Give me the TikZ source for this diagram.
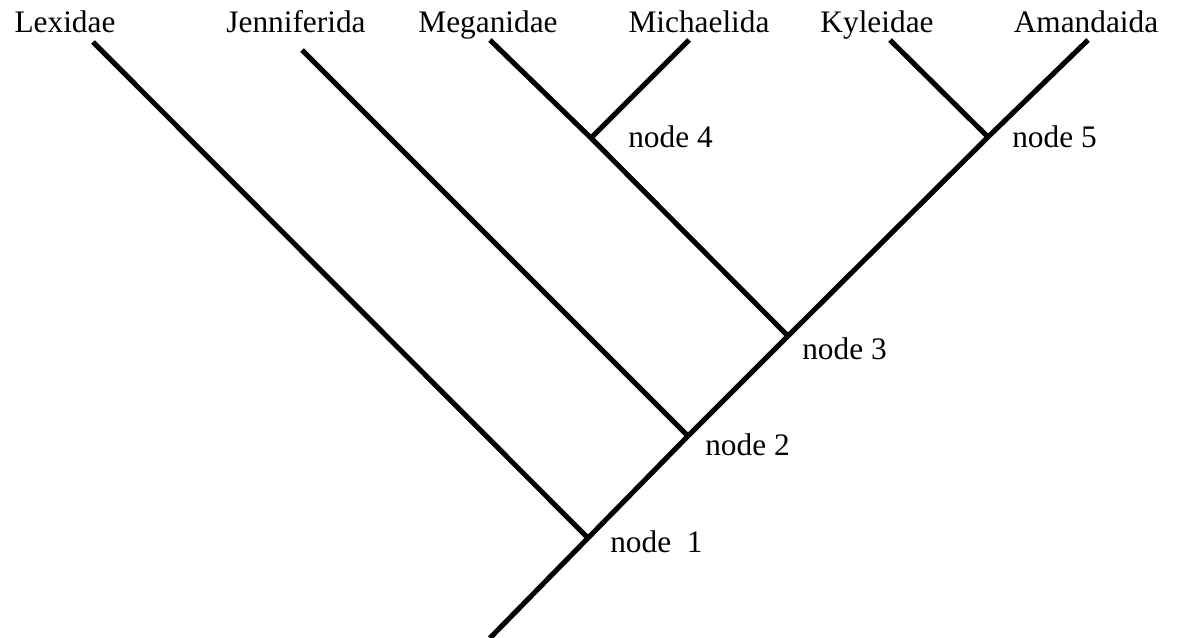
\documentclass[tikz,border=0pt]{standalone}
\usepackage{fontspec}
\setmainfont{Liberation Serif}
\begin{document}
\begin{tikzpicture}[x=0.75pt,y=-0.75pt,
  branch/.style={line width=3.8pt,line cap=butt},
  taxon/.style={anchor=base,inner sep=0pt,font=\fontsize{23.5}{26}\selectfont},
  nodelab/.style={anchor=base west,inner sep=0pt,font=\fontsize{23.5}{26}\selectfont}]
\useasboundingbox (0,0) rectangle (1177,638);
% tree points
\coordinate (root) at (490,638);
\coordinate (n1) at (588,538);
\coordinate (n2) at (688,436);
\coordinate (n3) at (788,336);
\coordinate (n4) at (591,138);
\coordinate (n5) at (988,137);
\coordinate (tLex) at (93,42);
\coordinate (tJen) at (302,50);
\coordinate (tMeg) at (490,40);
\coordinate (tMic) at (689,40);
\coordinate (tKyl) at (890,40);
\coordinate (tAma) at (1088,40);
% branches
\draw[branch] (root) -- (n1);
\draw[branch] (n1) -- (n2);
\draw[branch] (n2) -- (n3);
\draw[branch] (n3) -- (n5);
\draw[branch] (n5) -- (tAma);
\draw[branch] (n5) -- (tKyl);
\draw[branch] (n3) -- (n4);
\draw[branch] (n4) -- (tMeg);
\draw[branch] (n4) -- (tMic);
\draw[branch] (n2) -- (tJen);
\draw[branch] (n1) -- (tLex);
% taxon labels
\node[taxon] (lLex) at (65,33) {Lexidae};
\node[taxon] (lJen) at (296,33) {Jenniferida};
\node[taxon] (lMeg) at (488,33) {Meganidae};
\node[taxon] (lMic) at (699,33) {Michaelida};
\node[taxon] (lKyl) at (877,33) {Kyleidae};
\node[taxon] (lAma) at (1086,33) {Amandaida};
% node labels
\node[nodelab] (ln4) at (628,147) {node 4};
\node[nodelab] (ln5) at (1012,147) {node 5};
\node[nodelab] (ln3) at (802,359) {node 3};
\node[nodelab] (ln2) at (705,455) {node 2};
\node[nodelab] (ln1) at (610,552) {node\ \ 1};
\end{tikzpicture}
\end{document}
